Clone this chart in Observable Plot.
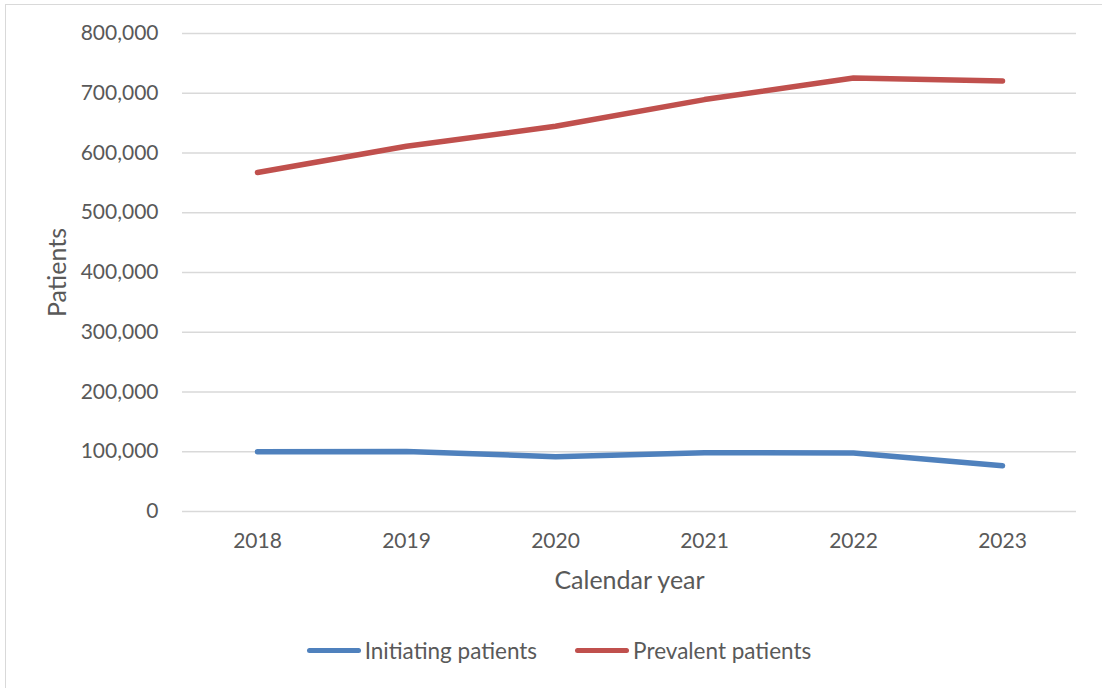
<!DOCTYPE html>
<html>
<head>
<meta charset="utf-8">
<script src="https://cdn.jsdelivr.net/npm/d3@7"></script>
<script src="https://cdn.jsdelivr.net/npm/@observablehq/plot@0.6"></script>
<style>
  html, body { margin: 0; padding: 0; background: #fff; }
  body { width: 1102px; height: 688px; position: relative; overflow: hidden; font-family: Lato, "Open Sans", sans-serif; }
  #frame { position: absolute; left: 5px; top: 4px; width: 1110px; height: 700px; border: 1.5px solid #d9d9d9; box-sizing: border-box; pointer-events: none; }
  #chart { position: absolute; left: 0; top: 0; }
  #legend { position: absolute; left: 8px; top: 637px; width: 1102px; display: flex; justify-content: center; font-size: 22.5px; color: #595959; }
  .item { display: flex; align-items: center; margin: 0 19px; }
  .swatch { width: 54px; height: 5.5px; border-radius: 3px; margin-right: 4px; }
</style>
</head>
<body>
<div id="chart"></div>
<div id="legend"></div>
<div id="frame"></div>
<script>
const years = ["2018", "2019", "2020", "2021", "2022", "2023"];
const initiating = [100000, 100500, 91800, 98400, 97800, 76600];
const prevalent = [567300, 611200, 644700, 689400, 725600, 720600];
const seriesNames = ["Initiating patients", "Prevalent patients"];
const seriesColors = ["#4f81bd", "#c0504d"];
const yTicks = [0, 100000, 200000, 300000, 400000, 500000, 600000, 700000, 800000];

const rows = [
  ...years.map((year, i) => ({year, value: initiating[i], series: seriesNames[0]})),
  ...years.map((year, i) => ({year, value: prevalent[i], series: seriesNames[1]}))
];

const fmt = d3.format(",");

const chart = Plot.plot({
  width: 1102,
  height: 610,
  marginTop: 33,
  marginBottom: 99,
  marginLeft: 182,
  marginRight: 26,
  style: {fontFamily: "Lato, 'Open Sans', sans-serif", fontSize: "21px", color: "#595959", background: "transparent"},
  x: {type: "point", domain: years, padding: 0.5},
  y: {domain: [0, 800000]},
  color: {domain: seriesNames, range: seriesColors},
  marks: [
    Plot.gridY(yTicks, {stroke: "#d9d9d9", strokeOpacity: 1, strokeWidth: 1.5}),
    Plot.axisY(yTicks, {tickSize: 0, tickPadding: 24, tickFormat: fmt, label: null, fill: "#595959"}),
    Plot.axisX({tickSize: 0, tickPadding: 22, label: null, fill: "#595959"}),
    Plot.line(rows, {x: "year", y: "value", z: "series", stroke: "series", strokeWidth: 5.5, strokeLinecap: "round", strokeLinejoin: "round"}),
    Plot.text(["Calendar year"], {frameAnchor: "bottom", dy: 69, lineAnchor: "middle", fill: "#595959", fontSize: 25}),
    Plot.text(["Patients"], {frameAnchor: "left", dx: -125, rotate: -90, textAnchor: "middle", lineAnchor: "middle", fill: "#595959", fontSize: 25})
  ]
});
document.getElementById("chart").appendChild(chart);

const legend = document.getElementById("legend");
seriesNames.forEach((name, i) => {
  const item = document.createElement("div");
  item.className = "item";
  const sw = document.createElement("span");
  sw.className = "swatch";
  sw.style.background = seriesColors[i];
  const label = document.createElement("span");
  label.textContent = name;
  item.appendChild(sw);
  item.appendChild(label);
  legend.appendChild(item);
});
</script>
</body>
</html>
